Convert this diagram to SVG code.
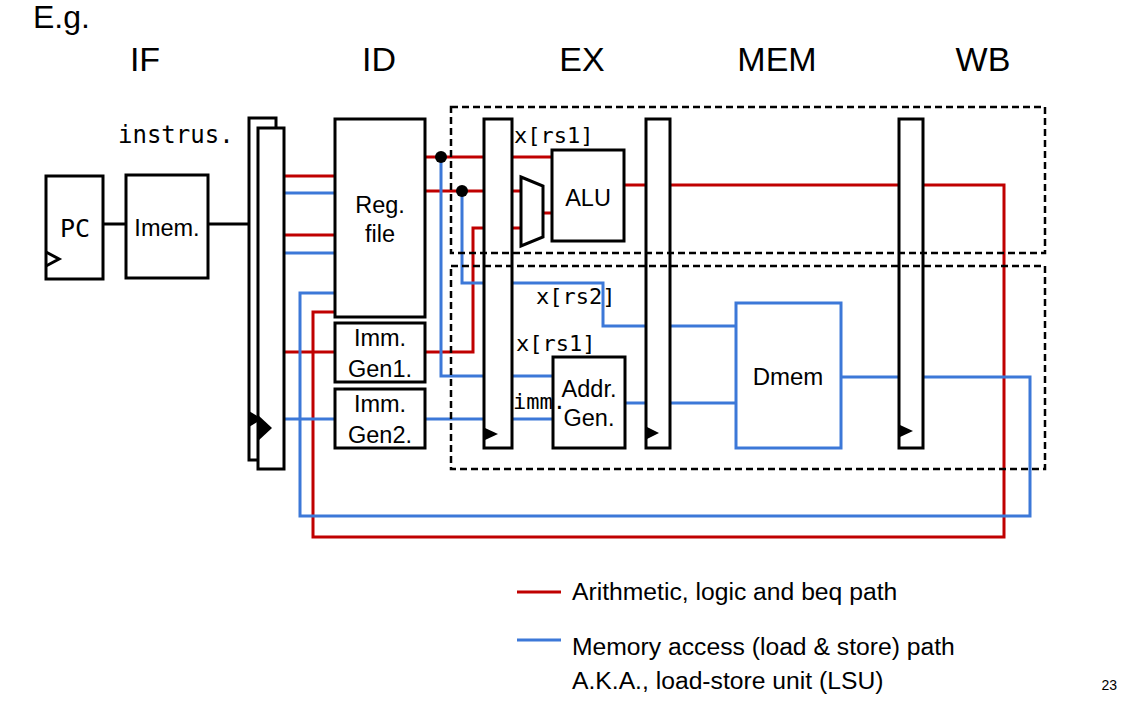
<svg xmlns="http://www.w3.org/2000/svg" width="1142" height="715" viewBox="0 0 1142 715">
<style>
.s{font-family:"Liberation Sans",Arial,Helvetica,sans-serif;fill:#000}
.m{font-family:"DejaVu Sans Mono","Liberation Mono",monospace;fill:#000}
.box{fill:#fff;stroke:#000;stroke-width:3}
.reg{fill:#fff;stroke:#000;stroke-width:3}
.r{fill:none;stroke:#c00000;stroke-width:3}
.b{fill:none;stroke:#3c78d8;stroke-width:3}
.k{fill:none;stroke:#000;stroke-width:3}
.d{fill:none;stroke:#000;stroke-width:2.5;stroke-dasharray:7 4}
.c{text-anchor:middle}
</style>
<text class="s" x="33" y="28" font-size="32">E.g.</text>
<g id="stages" class="s c" font-size="34">
<text x="145" y="71">IF</text>
<text x="379" y="71">ID</text>
<text x="582" y="71">EX</text>
<text x="777" y="71">MEM</text>
<text x="983" y="71">WB</text>
</g>
<g id="connectors">
<path class="k" d="M103,224 H126 M208,224 H249"/>
<path class="r" d="M284,176 H335 M284,235 H335 M284,352 H335 M425,157 H552 M425,191 H521 M425,352 H473 V228 H521 M543,213 H552 M624,185 H1004 V537 H313 V312 H335"/>
<path class="b" d="M284,193 H335 M284,253 H335 M284,419 H335 M425,419 H553 M441,157 V376 H553 M462,191 V283 H603 V326 H736 M625,403 H736 M841,377 H1030 V516 H300 V293 H335"/>
<circle cx="441" cy="157" r="6" fill="#000"/>
<circle cx="462" cy="191" r="6" fill="#000"/>
</g>
<g id="pc">
<rect class="box" x="46" y="176" width="57" height="103"/>
<polyline class="k" points="46,252 59,259 46,266"/>
<text class="m c" x="75" y="237" font-size="25">PC</text>
</g>
<g id="imem">
<rect class="box" x="126" y="175" width="82" height="103"/>
<text class="s c" x="167" y="236" font-size="23.5">Imem.</text>
</g>
<text class="m" x="118" y="143" font-size="24">instrus.</text>
<g id="if-id">
<rect class="reg" x="249" y="118" width="27" height="342"/>
<polygon points="249,411 262,419 249,427" fill="#000"/>
<rect class="reg" x="258" y="128" width="26" height="341"/>
<polygon points="258,415 272,428 258,441" fill="#000"/>
</g>
<g id="regfile">
<rect class="box" x="335" y="119" width="90" height="198"/>
<text class="s c" x="380" y="213" font-size="23.5">Reg.</text>
<text class="s c" x="380" y="242" font-size="23.5">file</text>
</g>
<g id="immgen1">
<rect class="box" x="335" y="323" width="90" height="59"/>
<text class="s c" x="380" y="346" font-size="23.5">Imm.</text>
<text class="s c" x="380" y="377" font-size="23.5">Gen1.</text>
</g>
<g id="immgen2">
<rect class="box" x="335" y="389" width="90" height="59"/>
<text class="s c" x="380" y="412" font-size="23.5">Imm.</text>
<text class="s c" x="380" y="443" font-size="23.5">Gen2.</text>
</g>
<g id="id-ex">
<rect class="reg" x="484" y="119" width="28" height="329"/>
<polygon points="485,428 498,434 485,440" fill="#000"/>
</g>
<g id="mux">
<polygon class="box" points="521,177 543,186 543,237 521,246"/>
</g>
<g id="alu">
<rect class="box" x="552" y="150" width="72" height="91"/>
<text class="s c" x="588" y="206" font-size="23.5">ALU</text>
</g>
<g id="addrgen">
<rect class="box" x="553" y="357" width="72" height="91"/>
<text class="s c" x="589" y="397" font-size="23.5">Addr.</text>
<text class="s c" x="589" y="426" font-size="23.5">Gen.</text>
</g>
<g id="ex-mem">
<rect class="reg" x="646" y="119" width="24" height="329"/>
<polygon points="647,427 659,433 647,439" fill="#000"/>
</g>
<g id="dmem">
<rect x="736" y="303" width="105" height="145" fill="#fff" stroke="#3c78d8" stroke-width="3"/>
<text class="s c" x="788" y="385" font-size="24">Dmem</text>
</g>
<g id="mem-wb">
<rect class="reg" x="899" y="119" width="24" height="329"/>
<polygon points="900,425 913,431 900,437" fill="#000"/>
</g>
<g id="labels" class="m" font-size="22">
<text x="514" y="143">x[rs1]</text>
<text x="536" y="304">x[rs2]</text>
<text x="516" y="351">x[rs1]</text>
<text x="513" y="409">imm.</text>
</g>
<g id="regions">
<rect class="d" x="451" y="107" width="594" height="146"/>
<rect class="d" x="451" y="266" width="594" height="203"/>
</g>
<g id="legend" class="s" font-size="24.7">
<line x1="517" y1="592" x2="561" y2="592" stroke="#c00000" stroke-width="3"/>
<text x="572" y="600">Arithmetic, logic and beq path</text>
<line x1="517" y1="640" x2="561" y2="640" stroke="#3c78d8" stroke-width="3"/>
<text x="572" y="655">Memory access (load &amp; store) path</text>
<text x="572" y="689">A.K.A., load-store unit (LSU)</text>
</g>
<text class="s" x="1117" y="690" font-size="14" text-anchor="end">23</text>
</svg>
